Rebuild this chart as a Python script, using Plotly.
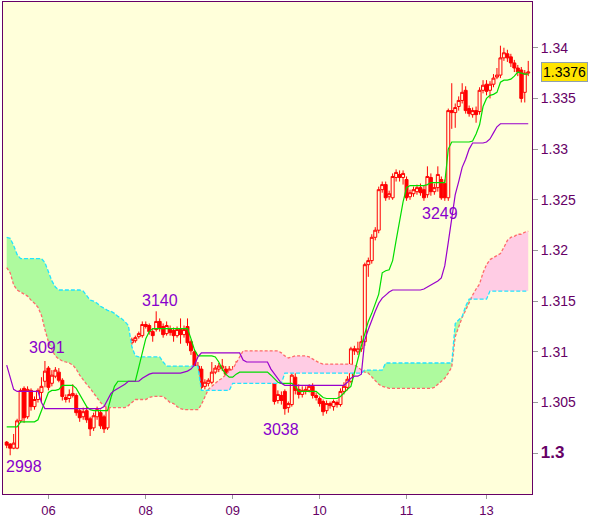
import plotly.graph_objects as go

# ---- data (prices as last-4-digit pips: 1 + v/10000) ----
opens = [3011, 3009, 3005, 3005, 3032, 3064, 3036, 3062, 3046, 3053,
         3060, 3071, 3084, 3069, 3076, 3080, 3072, 3055, 3054, 3057,
         3057, 3042, 3036, 3042, 3034, 3025, 3036, 3040, 3036, 3025,
         3056, 3060, 3052, 3098, 3100, 3110, 3109, 3111, 3115, 3116,
         3127, 3126, 3120, 3122, 3130, 3125, 3118, 3123, 3121, 3116,
         3122, 3117, 3125, 3110, 3100, 3086, 3083, 3066, 3069, 3070,
         3080, 3083, 3084, 3083, 3080, 3082, 3078, 3079, 3074, 3078,
         3080, 3076, 3086, 3084, 3077, 3088, 3077, 3071, 3052, 3057,
         3061, 3045, 3048, 3075, 3063, 3058, 3061, 3062, 3066, 3057,
         3054, 3051, 3042, 3049, 3046, 3050, 3048, 3061, 3065, 3071,
         3103, 3100, 3103, 3110, 3186, 3190, 3213, 3220, 3260, 3265,
         3253, 3252, 3272, 3275, 3272, 3270, 3253, 3256, 3258, 3262,
         3260, 3255, 3272, 3258, 3262, 3270, 3266, 3252, 3338, 3336,
         3342, 3348, 3358, 3340, 3334, 3338, 3337, 3358, 3364, 3358,
         3364, 3371, 3373, 3390, 3394, 3391, 3385, 3380, 3378, 3356,
         3375]
highs = [3012, 3010, 3019, 3034, 3064, 3066, 3066, 3064, 3056, 3064,
         3075, 3091, 3086, 3082, 3085, 3084, 3074, 3058, 3063, 3068,
         3059, 3044, 3045, 3046, 3036, 3040, 3046, 3043, 3038, 3060,
         3066, 3062, 3102, 3104, 3112, 3113, 3114, 3116, 3120, 3130,
         3130, 3128, 3123, 3140, 3133, 3128, 3130, 3126, 3124, 3125,
         3133, 3126, 3133, 3112, 3102, 3090, 3086, 3073, 3074, 3090,
         3087, 3089, 3093, 3086, 3086, 3086, 3091, 3082, 3081, 3084,
         3083, 3095, 3089, 3088, 3096, 3092, 3085, 3074, 3062, 3061,
         3063, 3051, 3082, 3079, 3068, 3066, 3066, 3068, 3069, 3060,
         3056, 3053, 3052, 3051, 3053, 3052, 3064, 3070, 3076, 3105,
         3106, 3110, 3116, 3188, 3193, 3216, 3223, 3263, 3268, 3268,
         3259, 3276, 3280, 3279, 3279, 3273, 3260, 3263, 3265, 3266,
         3264, 3283, 3276, 3266, 3283, 3273, 3270, 3340, 3365, 3345,
         3352, 3365, 3362, 3343, 3341, 3342, 3361, 3368, 3368, 3367,
         3374, 3380, 3402, 3400, 3398, 3394, 3388, 3383, 3381, 3378,
         3387]
lows = [3005, 2998, 3004, 3004, 3030, 3030, 3034, 3042, 3043, 3050,
        3050, 3065, 3062, 3066, 3074, 3070, 3052, 3050, 3050, 3055,
        3037, 3031, 3033, 3030, 3017, 3022, 3033, 3024, 3020, 3023,
        3054, 3048, 3050, 3094, 3097, 3099, 3107, 3109, 3113, 3114,
        3123, 3117, 3110, 3120, 3120, 3114, 3116, 3116, 3110, 3114,
        3108, 3114, 3106, 3097, 3082, 3077, 3062, 3063, 3066, 3068,
        3078, 3080, 3081, 3074, 3077, 3075, 3074, 3071, 3072, 3075,
        3071, 3074, 3080, 3073, 3074, 3072, 3073, 3048, 3049, 3048,
        3038, 3040, 3046, 3058, 3054, 3055, 3058, 3060, 3054, 3052,
        3046, 3037, 3039, 3044, 3042, 3045, 3046, 3058, 3062, 3069,
        3097, 3097, 3100, 3106, 3174, 3187, 3210, 3217, 3257, 3249,
        3250, 3250, 3268, 3268, 3265, 3249, 3250, 3253, 3255, 3254,
        3249, 3252, 3254, 3255, 3258, 3250, 3249, 3249, 3320, 3321,
        3338, 3345, 3335, 3332, 3331, 3326, 3334, 3355, 3353, 3350,
        3361, 3369, 3370, 3387, 3386, 3381, 3376, 3372, 3346, 3346,
        3372]
closes = [3008, 3005, 3010, 3032, 3062, 3035, 3063, 3046, 3053, 3062,
          3066, 3081, 3065, 3077, 3082, 3072, 3056, 3053, 3058, 3059,
          3040, 3035, 3041, 3033, 3024, 3037, 3043, 3027, 3024, 3056,
          3061, 3050, 3100, 3101, 3110, 3101, 3112, 3114, 3118, 3127,
          3125, 3120, 3116, 3130, 3124, 3117, 3126, 3119, 3116, 3122,
          3117, 3122, 3109, 3101, 3086, 3080, 3065, 3070, 3072, 3080,
          3084, 3086, 3086, 3078, 3083, 3078, 3084, 3074, 3078, 3080,
          3074, 3086, 3083, 3076, 3088, 3076, 3081, 3051, 3058, 3052,
          3044, 3049, 3077, 3062, 3058, 3062, 3063, 3066, 3057, 3055,
          3049, 3041, 3049, 3047, 3051, 3048, 3061, 3066, 3073, 3103,
          3101, 3103, 3110, 3186, 3190, 3213, 3220, 3260, 3265, 3252,
          3256, 3273, 3277, 3272, 3276, 3252, 3257, 3260, 3262, 3257,
          3252, 3273, 3258, 3262, 3275, 3252, 3252, 3338, 3336, 3341,
          3348, 3356, 3338, 3335, 3338, 3334, 3358, 3363, 3357, 3364,
          3370, 3373, 3390, 3395, 3390, 3385, 3380, 3376, 3350, 3375,
          3376]
tenkan = [3026, 3026, 3026, 3026, 3031, 3031, 3031, 3031, 3031, 3033,
          3042, 3052, 3060, 3062, 3062, 3063, 3067, 3067, 3067, 3067,
          3064, 3058, 3052, 3046, 3043, 3042, 3042, 3042, 3042, 3042,
          3055, 3066, 3071, 3071, 3071, 3071, 3071, 3071, 3085, 3100,
          3113, 3120, 3123, 3123, 3123, 3123, 3123, 3123, 3123, 3123,
          3123, 3123, 3123, 3113, 3102, 3096, 3096, 3096, 3096, 3096,
          3095, 3090, 3083, 3078, 3075, 3075, 3078, 3080, 3080, 3080,
          3080, 3080, 3080, 3080, 3080, 3080, 3077, 3073, 3070, 3069,
          3069, 3069, 3069, 3066, 3061, 3061, 3061, 3061, 3061, 3061,
          3058, 3055, 3054, 3054, 3054, 3054, 3056, 3060, 3063, 3066,
          3080, 3092, 3106, 3118, 3130, 3138, 3148, 3157, 3178, 3180,
          3181, 3190, 3210, 3230, 3248, 3262, 3264, 3264, 3264, 3264,
          3264, 3265, 3267, 3267, 3267, 3267, 3267, 3300, 3307, 3307,
          3307, 3307, 3307, 3307, 3308, 3315, 3324, 3342, 3350, 3353,
          3354, 3356, 3366, 3368, 3368, 3369, 3372, 3376, 3375, 3374,
          3374]
kijun = [3087, 3075, 3063, 3061, 3061, 3061, 3061, 3061, 3061, 3061,
         3050, 3044, 3044, 3044, 3044, 3044, 3044, 3044, 3044, 3044,
         3044, 3044, 3044, 3044, 3044, 3044, 3044, 3044, 3046, 3052,
         3059, 3062, 3064, 3066, 3068, 3071, 3071, 3071, 3071, 3074,
         3076, 3078, 3079, 3079, 3079, 3079, 3079, 3079, 3079, 3079,
         3079, 3080, 3081, 3083, 3087, 3095, 3099, 3099, 3099, 3099,
         3099, 3099, 3099, 3099, 3099, 3099, 3099, 3099, 3092, 3090,
         3090, 3090, 3090, 3090, 3090, 3090, 3083, 3078, 3073, 3069,
         3067, 3067, 3067, 3067, 3067, 3067, 3067, 3067, 3067, 3067,
         3067, 3067, 3067, 3067, 3067, 3067, 3067, 3067, 3070, 3074,
         3076, 3076, 3078, 3112, 3122, 3132, 3140, 3148, 3153, 3156,
         3159, 3161, 3161, 3161, 3161, 3161, 3161, 3161, 3161, 3161,
         3162, 3164, 3166, 3168, 3170, 3173, 3185, 3208, 3230, 3255,
         3268, 3282, 3290, 3300, 3306, 3306, 3306, 3306, 3307, 3310,
         3316, 3322, 3325, 3325, 3325, 3325, 3325, 3325, 3325, 3325,
         3325]
span_a = [3183, 3178, 3166, 3161, 3159, 3157, 3155, 3151, 3148, 3144,
          3136, 3122, 3110, 3102, 3096, 3093, 3091, 3090, 3089, 3087,
          3083, 3077, 3072, 3068, 3064, 3059, 3054, 3050, 3047, 3045,
          3045, 3045, 3045, 3045, 3045, 3047, 3050, 3053, 3053, 3053,
          3053, 3055, 3056, 3056, 3056, 3056, 3053, 3050, 3049, 3046,
          3044, 3043, 3043, 3043, 3043, 3043, 3048, 3056, 3063, 3066,
          3069, 3072, 3074, 3078, 3081, 3083, 3089, 3096, 3101, 3101,
          3101, 3101, 3101, 3101, 3101, 3101, 3101, 3101, 3101, 3099,
          3096, 3094, 3095, 3096, 3096, 3096, 3096, 3095, 3093, 3091,
          3089, 3088, 3088, 3088, 3088, 3088, 3088, 3088, 3088, 3088,
          3087, 3085, 3082, 3080, 3079, 3075, 3071, 3068, 3066, 3065,
          3064, 3064, 3064, 3064, 3064, 3064, 3064, 3064, 3064, 3064,
          3064, 3064, 3064, 3065, 3068, 3071, 3074, 3079, 3085, 3115,
          3125, 3134, 3141, 3149, 3156, 3162, 3167, 3178, 3186, 3191,
          3193, 3195, 3197, 3203, 3210, 3213, 3214, 3216, 3216, 3218,
          3219]
span_b = [3213, 3212, 3205, 3196, 3192, 3192, 3192, 3192, 3192, 3192,
          3192, 3188, 3178, 3170, 3164, 3161, 3161, 3161, 3161, 3161,
          3161, 3161, 3160, 3155, 3151, 3150, 3148, 3145, 3143, 3141,
          3140, 3138, 3135, 3133, 3130, 3126, 3105, 3096, 3095, 3095,
          3095, 3095, 3095, 3095, 3095, 3090, 3086, 3086, 3086, 3086,
          3086, 3086, 3086, 3086, 3086, 3086, 3062, 3062, 3062, 3062,
          3062, 3062, 3062, 3062, 3062, 3069, 3069, 3069, 3069, 3069,
          3069, 3069, 3069, 3069, 3069, 3069, 3069, 3069, 3069, 3069,
          3079, 3079, 3079, 3079, 3079, 3079, 3079, 3079, 3079, 3079,
          3079, 3079, 3079, 3079, 3079, 3079, 3079, 3079, 3079, 3079,
          3079, 3079, 3079, 3082, 3082, 3082, 3082, 3082, 3082, 3089,
          3089, 3089, 3089, 3089, 3089, 3089, 3089, 3089, 3089, 3089,
          3089, 3089, 3089, 3089, 3089, 3089, 3089, 3089, 3089, 3128,
          3132, 3135, 3145, 3152, 3152, 3152, 3152, 3152, 3152, 3160,
          3160, 3160, 3160, 3160, 3160, 3160, 3160, 3160, 3160, 3160,
          3160]
day_tick_idx = [12, 40, 65, 90, 115, 138]
day_labels = ["06", "08", "09", "10", "11", "13"]
price_ticks = [1.300, 1.305, 1.310, 1.315, 1.320, 1.325, 1.330, 1.335, 1.340]
price_tick_text = ['<span style="font-size:17px"><b>1.3</b></span>', "1.305", "1.31", "1.315",
                   "1.32", "1.325", "1.33", "1.335", "1.34"]
# extreme-point labels: candle index and which extreme
extremes = [(1, "low"), (11, "high"), (43, "high"), (80, "low"), (126, "low")]
last_price_text = "1.3376"


def px(vals):
    return [1 + v / 10000.0 for v in vals]


O, H, L, C = px(opens), px(highs), px(lows), px(closes)
TK, KJ, SA, SB = px(tenkan), px(kijun), px(span_a), px(span_b)

fig = go.Figure()

# cloud fills
up = [max(a, b) for a, b in zip(SA, SB)]
xa = list(range(len(SA)))
fig.add_trace(go.Scatter(x=xa, y=SA, mode="lines", line=dict(width=0),
                         hoverinfo="skip", showlegend=False))
fig.add_trace(go.Scatter(x=xa, y=up, mode="lines", line=dict(width=0),
                         fill="tonexty", fillcolor="#AEFA9E",
                         hoverinfo="skip", showlegend=False))
fig.add_trace(go.Scatter(x=xa, y=SB, mode="lines", line=dict(width=0),
                         hoverinfo="skip", showlegend=False))
fig.add_trace(go.Scatter(x=xa, y=up, mode="lines", line=dict(width=0),
                         fill="tonexty", fillcolor="#FFCCE4",
                         hoverinfo="skip", showlegend=False))
# cloud edges
fig.add_trace(go.Scatter(x=xa, y=SA, mode="lines",
                         line=dict(color="#FF6A6A", width=1.3, dash="3px,2px"),
                         hoverinfo="skip", showlegend=False))
fig.add_trace(go.Scatter(x=list(range(len(SB))), y=SB, mode="lines",
                         line=dict(color="#22E4FF", width=1.3, dash="4px,2px"),
                         hoverinfo="skip", showlegend=False))

# candles
fig.add_trace(go.Candlestick(
    x=list(range(len(C))), open=O, high=H, low=L, close=C,
    increasing=dict(line=dict(color="#FF0000", width=1), fillcolor="rgba(255,255,220,1)"),
    decreasing=dict(line=dict(color="#FF0000", width=1), fillcolor="#FF0000"),
    whiskerwidth=0, showlegend=False, hoverinfo="skip"))

# tenkan / kijun
fig.add_trace(go.Scatter(x=list(range(len(TK))), y=TK, mode="lines",
                         line=dict(color="#00DD00", width=1.2),
                         hoverinfo="skip", showlegend=False))
fig.add_trace(go.Scatter(x=list(range(len(KJ))), y=KJ, mode="lines",
                         line=dict(color="#9900CC", width=1.2),
                         hoverinfo="skip", showlegend=False))

annotations = []
shifts = {1: (14, -11), 11: (2, 13), 43: (4, 11), 80: (-4, -15), 126: (-5, -13)}
for i, kind in extremes:
    val = lows[i] if kind == "low" else highs[i]
    yv = L[i] if kind == "low" else H[i]
    xs, ys = shifts[i]
    annotations.append(dict(x=i, y=yv, xref="x", yref="y", text=str(val % 10000).zfill(4),
                            showarrow=False, xshift=xs, yshift=ys,
                            font=dict(family="Liberation Sans, Arial", size=16, color="#8800CC")))
annotations.append(dict(x=1.0605, y=C[-1], xref="paper", yref="y", text=last_price_text,
                        showarrow=False, xanchor="center", yanchor="middle",
                        bgcolor="#FFE400", bordercolor="#8FA0B0", borderwidth=1, borderpad=1,
                        font=dict(family="Liberation Sans, Arial", size=14, color="#000000")))

fig.update_layout(
    width=600, height=519,
    margin=dict(l=3, r=68, t=1, b=23),
    paper_bgcolor="#FFFFFF", plot_bgcolor="#FFFFDA",
    showlegend=False, boxgap=0.05, boxgroupgap=0.1,
    annotations=annotations,
    xaxis=dict(range=[-1.06, 151.08], tickmode="array", tickvals=day_tick_idx,
               ticktext=day_labels, ticks="outside", ticklen=4, tickcolor="#9A9A9A",
               showline=True, mirror=True, linecolor="#660066", linewidth=1,
               showgrid=False, zeroline=False, rangeslider=dict(visible=False),
               tickfont=dict(family="Liberation Sans, Arial", size=13, color="#660066")),
    yaxis=dict(range=[1.29598, 1.34451], side="right", tickmode="array",
               tickvals=price_ticks, ticktext=price_tick_text,
               ticks="outside", ticklen=5, tickcolor="#9A9A9A",
               showline=True, mirror=True, linecolor="#660066", linewidth=1,
               showgrid=False, zeroline=False,
               tickfont=dict(family="Liberation Sans, Arial", size=14, color="#660066")),
)

fig.write_html("out.html", config={"displayModeBar": False},
               post_script="document.body.style.margin='0px';document.body.style.padding='0px';")
